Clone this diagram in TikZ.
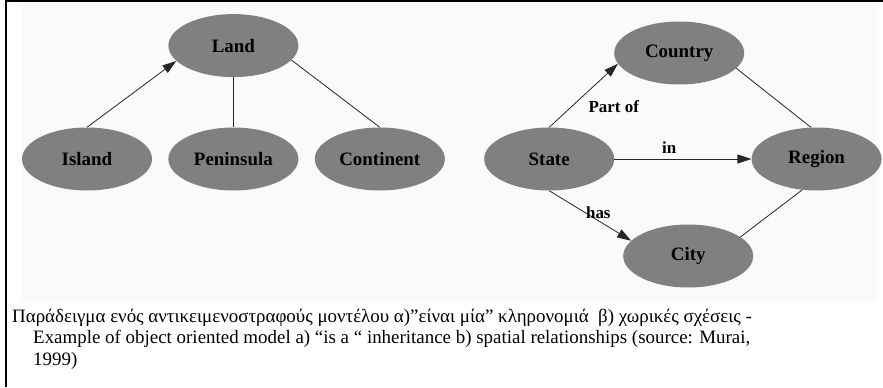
\documentclass[tikz,border=0pt]{standalone}
\usepackage{fontspec}
\setmainfont{Liberation Serif}
\usetikzlibrary{shapes.geometric,positioning,arrows.meta}
\definecolor{nodegray}{HTML}{808080}
\definecolor{panelgray}{HTML}{FAFAFA}

\begin{document}
\begin{tikzpicture}[
    x=1bp, y=1bp,
    node distance=16bp and 16bp,
    blob/.style={
      ellipse,
      fill=nodegray,
      minimum width=130bp,
      minimum height=63bp,
      inner sep=0pt,
      font=\fontsize{19}{22}\selectfont\bfseries
    },
    lbl/.style={inner sep=1bp, font=\fontsize{17}{20}\selectfont\bfseries},
    conn/.style={line width=0.8bp, draw=black!85},
    arr/.style={conn, -{Triangle[length=14bp,width=9bp]}},
    captxt/.style={anchor=base west, inner sep=0pt, font=\fontsize{19}{22}\selectfont}
  ]
  \useasboundingbox (0,0) rectangle (883,387);

  % panel and frame
  \fill[panelgray] (22,86) rectangle (878,383.5);
  \draw[line width=2bp] (6,0) -- (6,385.5) -- (883,385.5);

  % a) "is a" inheritance
  \node[blob] (island) at (87,228) {Island};
  \node[blob,right=of island] (peninsula) {Peninsula};
  \node[blob,right=of peninsula] (continent) {Continent};
  \node[blob,above=50bp of peninsula] (land) {Land};
  \draw[arr] (island.north) -- (land.195);
  \draw[conn] (land.south) -- (peninsula.north);
  \draw[conn] (land.346) -- (continent.north);

  % b) spatial relationships
  \node[blob,right=39bp of continent] (state) {State};
  \node[blob,right=137bp of state] (region) {Region};
  \node[blob] (country) at ([xshift=130bp,yshift=106bp]state.center) {Country};
  \node[blob] (city) at ([xshift=139bp,yshift=-97bp]state.center) {City};
  \draw[arr] (state.north) -- node[lbl,pos=0.32,right=16bp] (partof) {Part of} (country.190);
  \draw[arr] (state.east) -- node[lbl,pos=0.4,above=4bp] (inlbl) {in} (region.west);
  \draw[arr] (state.south) -- node[lbl,pos=0.6,above=1bp] (haslbl) {has} (city.165);
  \draw[conn] (country.345) -- (region.100);
  \draw[conn] (region.245) -- (city.20);

  % caption
  \node[captxt] (cap1) at (12,65) {Παράδειγμα ενός αντικειμενοστραφούς μοντέλου α)”είναι μία” κληρονομιά\ \ β) χωρικές σχέσεις -};
  \node[captxt] (cap2) at (33,43.5) {Example of object oriented model a) “is a “ inheritance b) spatial relationships (source: Murai,};
  \node[captxt] (cap3) at (33,22) {1999)};
\end{tikzpicture}
\end{document}
